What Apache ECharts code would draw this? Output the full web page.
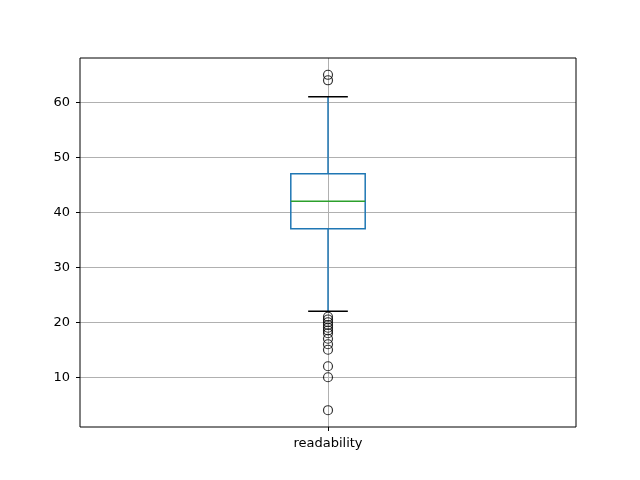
<!DOCTYPE html>
<html><head><meta charset="utf-8">
<script src="https://cdn.jsdelivr.net/npm/echarts@6/dist/echarts.min.js"></script>
<style>html,body{margin:0;padding:0;background:#fff}#c{width:640px;height:480px}</style>
</head><body><div id="c"></div>
<script>
const categories = ['readability'];
// [whiskerLow, q1, median, q3, whiskerHigh]
const boxStats = [22, 37, 42, 47, 61];
const outliers = [65, 64, 21, 20.5, 20, 19.5, 19, 18.5, 18, 17, 16, 15, 12, 10, 4];
const yTicks = [10, 20, 30, 40, 50, 60];
const yMin = 0.95, yMax = 68.05;

const chart = echarts.init(document.getElementById('c'), null, {renderer: 'canvas'});
const font = {fontFamily: 'DejaVu Sans', fontSize: 13, color: '#000'};
chart.setOption({
  animation: false,
  backgroundColor: '#fff',
  grid: {left: 80, top: 58, width: 496, height: 369, show: true, borderColor: '#000', borderWidth: 1, backgroundColor: 'transparent', z: 10},
  xAxis: {
    type: 'value', min: 0.5, max: 1.5,
    axisLine: {show: false},
    axisTick: {show: true, length: 4, lineStyle: {color: '#000'}, customValues: [1]},
    axisLabel: {show: true, customValues: [1], formatter: () => categories[0], margin: 10, ...font},
    splitLine: {show: true, lineStyle: {color: '#b0b0b0', width: 1}}
  },
  yAxis: {
    type: 'value', min: yMin, max: yMax,
    axisLine: {show: false},
    axisTick: {show: true, length: 4, lineStyle: {color: '#000'}, customValues: yTicks},
    axisLabel: {show: true, customValues: yTicks, margin: 10, ...font},
    splitLine: {show: true, lineStyle: {color: '#b0b0b0', width: 1}}
  },
  series: [
    {
      type: 'custom',
      z: 3,
      data: [[1].concat(boxStats)],
      renderItem: function (params, api) {
        const x = api.value(0);
        const lo = api.coord([x, api.value(1)]);
        const q1 = api.coord([x, api.value(2)]);
        const med = api.coord([x, api.value(3)]);
        const q3 = api.coord([x, api.value(4)]);
        const hi = api.coord([x, api.value(5)]);
        const unit = api.size([1, 0])[0];
        const bw = unit * 0.075;
        const cw = unit * 0.04;
        const cx = lo[0];
        const blue = '#1f77b4';
        return {type: 'group', children: [
          {type: 'line', shape: {x1: cx, y1: q1[1], x2: cx, y2: lo[1]}, style: {stroke: blue, lineWidth: 1.5}},
          {type: 'line', shape: {x1: cx, y1: q3[1], x2: cx, y2: hi[1]}, style: {stroke: blue, lineWidth: 1.5}},
          {type: 'line', shape: {x1: cx - cw, y1: lo[1], x2: cx + cw, y2: lo[1]}, style: {stroke: '#000', lineWidth: 1.5}},
          {type: 'line', shape: {x1: cx - cw, y1: hi[1], x2: cx + cw, y2: hi[1]}, style: {stroke: '#000', lineWidth: 1.5}},
          {type: 'rect', shape: {x: cx - bw, y: q3[1], width: 2 * bw, height: q1[1] - q3[1]}, style: {fill: 'none', stroke: blue, lineWidth: 1.5}},
          {type: 'line', shape: {x1: cx - bw, y1: med[1], x2: cx + bw, y2: med[1]}, style: {stroke: '#2ca02c', lineWidth: 1.5}}
        ]};
      }
    },
    {
      type: 'scatter',
      z: 4,
      symbol: 'circle',
      symbolSize: 9,
      itemStyle: {color: 'rgba(0,0,0,0)', borderColor: '#000', borderWidth: 1.2},
      data: outliers.map(v => [1, v])
    }
  ]
});
</script></body></html>
